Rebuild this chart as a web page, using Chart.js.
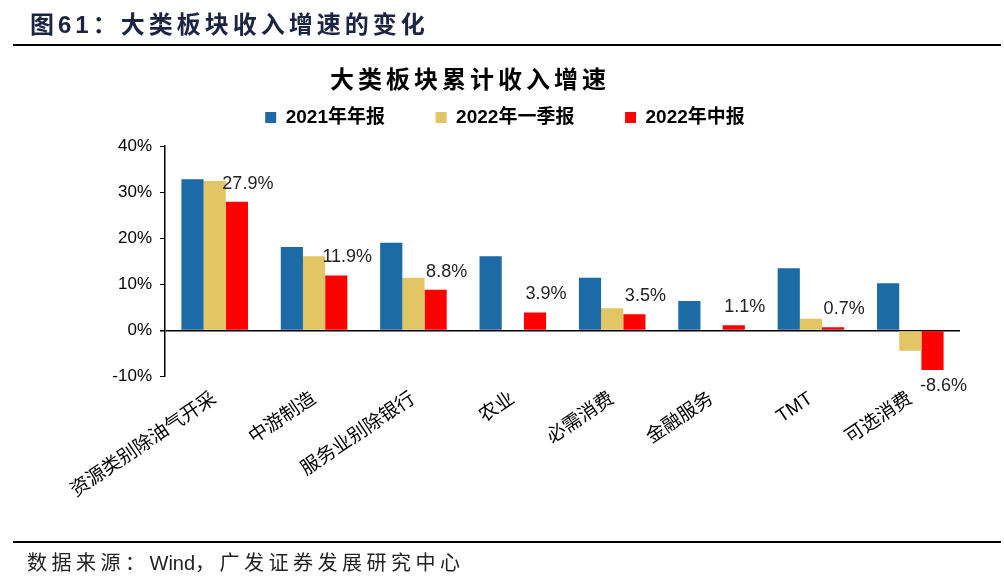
<!DOCTYPE html>
<html>
<head>
<meta charset="utf-8">
<script src="https://cdn.jsdelivr.net/npm/chart.js@4"></script>
<style>
  body { margin: 0; background: #fff; font-family: "Noto Sans CJK SC", Arial, sans-serif; }
  #wrap { position: relative; width: 1004px; height: 579px; overflow: hidden; }
  #head { position: absolute; left: 30px; top: 5px; font-size: 24px; font-weight: bold; color: #1b2440; letter-spacing: 4px; }
  #line1 { position: absolute; left: 13px; top: 44px; width: 988px; height: 2px; background: #000; }
  #line2 { position: absolute; left: 13px; top: 541px; width: 988px; height: 2px; background: #000; }
  #foot { position: absolute; left: 27px; top: 547px; font-size: 20px; color: #222; letter-spacing: 4.5px; }
  #title { position: absolute; left: 330px; top: 61px; font-size: 24px; font-weight: bold; color: #000; letter-spacing: 4px; line-height: 34px; }
  #box { position: absolute; left: 0; top: 0; width: 1004px; height: 579px; }
</style>
</head>
<body>
<div id="wrap">
  <div id="box"><canvas id="chart" width="1004" height="579"></canvas></div>
  <div id="head">图<span style="font-family:Arial">61</span>：大类板块收入增速的变化</div>
  <div id="line1"></div>
  <div id="title">大类板块累计收入增速</div>
  <div id="line2"></div>
  <div id="foot">数据来源：<span style="font-family:Arial;letter-spacing:0">Wind</span>，广发证券发展研究中心</div>
</div>
<script>
const categories = ["资源类别除油气开采", "中游制造", "服务业别除银行", "农业", "必需消费", "金融服务", "TMT", "可选消费"];
const seriesNames = ["2021年年报", "2022年一季报", "2022年中报"];
const y2021 = [32.8, 18.1, 19.0, 16.1, 11.4, 6.4, 13.5, 10.2];
const q1_2022 = [32.4, 16.1, 11.4, 0, 4.8, -0.2, 2.5, -4.4];
const h1_2022 = [27.9, 11.9, 8.8, 3.9, 3.5, 1.1, 0.7, -8.6];
const yTicks = [40, 30, 20, 10, 0, -10];

// value labels on the 2022 mid-year bars
const labelPlugin = {
  id: "redLabels",
  afterDatasetsDraw(chart) {
    const ctx = chart.ctx;
    const meta = chart.getDatasetMeta(2);
    ctx.save();
    ctx.font = "18px Arial";
    ctx.fillStyle = "#222";
    ctx.textAlign = "center";
    meta.data.forEach((bar, i) => {
      const v = h1_2022[i];
      const txt = v.toFixed(1) + "%";
      if (v >= 0) {
        ctx.textBaseline = "bottom";
        ctx.fillText(txt, bar.x + 11, bar.y - 9);
      } else {
        ctx.textBaseline = "top";
        ctx.fillText(txt, bar.x + 11, bar.y + 7);
      }
    });
    ctx.restore();
  }
};

// empty gap between legend and plot
const spacerPlugin = {
  id: "spacer",
  beforeInit(chart) {
    Chart.layouts.addBox(chart, {
      position: "top",
      weight: 500,
      fullSize: true,
      options: {},
      isHorizontal: () => true,
      update(w) { this.width = w; this.height = 9; },
      draw() {}
    });
  }
};

new Chart(document.getElementById("chart"), {
  type: "bar",
  data: {
    labels: categories,
    datasets: [
      { label: seriesNames[0], data: y2021, backgroundColor: "#1c6ba6" },
      { label: seriesNames[1], data: q1_2022, backgroundColor: "#e2c564" },
      { label: seriesNames[2], data: h1_2022, backgroundColor: "#ff0000" }
    ]
  },
  options: {
    responsive: false,
    animation: false,
    devicePixelRatio: 1,
    layout: { padding: { top: 89, left: 50, right: 44, bottom: 74 } },
    datasets: { bar: { categoryPercentage: 0.67, barPercentage: 1.0 } },
    plugins: {
      title: { display: false },
      legend: {
        labels: {
          color: "#000",
          boxWidth: 11,
          boxHeight: 11,
          padding: 19,
          font: { size: 19, weight: "bold", family: "Arial, 'Noto Sans CJK SC'" },
          generateLabels(chart) {
            const items = Chart.defaults.plugins.legend.labels.generateLabels(chart);
            items.forEach((it, i) => {
              it.lineWidth = 0;
              if (i < items.length - 1) it.text = it.text + "      ";
            });
            return items;
          }
        }
      },
      tooltip: { enabled: false }
    },
    scales: {
      x: {
        grid: { display: false },
        border: { display: false },
        ticks: {
          color: "#000",
          maxRotation: 34,
          minRotation: 34,
          autoSkip: false,
          font: { size: 19, family: "Arial, 'Noto Sans CJK SC'" }
        }
      },
      y: {
        min: -10,
        max: 40,
        afterFit(scale) { scale.width = 115; },
        afterBuildTicks(scale) { scale.ticks = yTicks.map(v => ({ value: v })); },
        border: { display: true, color: "#000", width: 1.5 },
        grid: {
          drawOnChartArea: true,
          color: (c) => (c.tick && c.tick.value === 0 ? "#000" : "rgba(0,0,0,0)"),
          lineWidth: (c) => (c.tick && c.tick.value === 0 ? 1.5 : 1),
          tickColor: "#000",
          tickLength: 5
        },
        ticks: {
          color: "#000",
          padding: 8,
          font: { size: 17, family: "Arial" },
          callback: (v) => v + "%"
        }
      }
    }
  },
  plugins: [labelPlugin, spacerPlugin]
});
</script>
</body>
</html>
